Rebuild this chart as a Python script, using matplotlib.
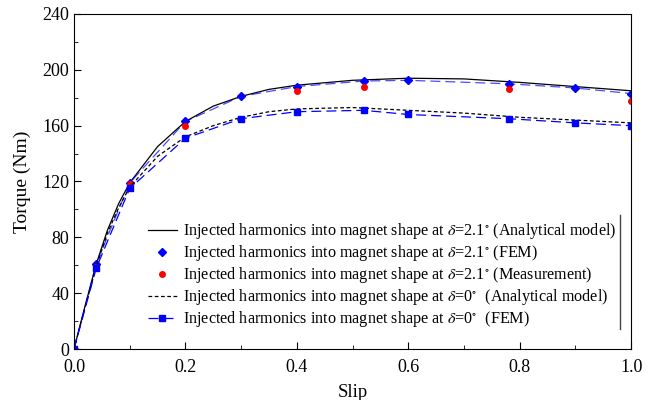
import numpy as np
import matplotlib.pyplot as plt

plt.rcParams['font.family'] = ['Liberation Serif', 'DejaVu Serif']
plt.rcParams['mathtext.fontset'] = 'stix'

# analytical model curves
s_an = [0, 0.02, 0.04, 0.06, 0.08, 0.1, 0.15, 0.2, 0.25, 0.3, 0.35, 0.4,
        0.5, 0.6, 0.7, 0.8, 0.9, 1.0]
t_an21 = [0, 31, 61, 85, 104, 119, 145, 163, 174, 181, 186, 189,
          192.5, 194, 193.5, 191, 188, 185]
t_an0 = [0, 30, 59, 83, 101, 116, 138, 152, 160, 166, 170, 172,
         173, 171, 169, 166, 164, 162]

# FEM delta = 2.1
s_fem = [0, 0.04, 0.1, 0.2, 0.3, 0.4, 0.52, 0.6, 0.78, 0.9, 1.0]
t_fem21 = [0, 61, 119, 163, 181, 188, 192, 192.5, 190, 187, 183]
# FEM delta = 0
t_fem0 = [0, 58, 115, 151, 165, 170, 171, 168, 165, 162, 160]

# measurement delta = 2.1
s_meas = [0.04, 0.1, 0.2, 0.4, 0.52, 0.78, 1.0]
t_meas = [59, 118, 160, 185, 188, 186, 178]

lab = 'Injected harmonics into magnet shape at '
d21 = r'$\delta$=2.1$^{\circ}$'
d0 = r'$\delta$=0$^{\circ}$'

fig = plt.figure(figsize=(6.57, 4.0), dpi=100)
ax = fig.add_axes([0.1126, 0.1275, 0.848, 0.8375])

ax.plot(s_an, t_an21, color='black', lw=0.9, label=lab + d21 + ' (Analytical model)')
ax.plot(s_fem, t_fem21, color='blue', lw=0.9, ls=(0, (8, 4)), alpha=0.7)
ax.plot(s_fem, t_fem21, color='blue', ls='none', marker='D', ms=4,
        label=lab + d21 + ' (FEM)')
ax.plot(s_meas, t_meas, color='red', ls='none', marker='o', ms=4,
        label=lab + d21 + ' (Measurement)')
ax.plot(s_an, t_an0, color='black', lw=0.9, ls=(0, (3, 2)),
        label=lab + d0 + '  (Analytical model)')
ax.plot(s_fem, t_fem0, color='blue', lw=0.9, ls=(0, (8, 4)), marker='s', ms=4,
        label=lab + d0 + '  (FEM)')

ax.set_xlim(0, 1.0)
ax.set_ylim(0, 240)
ax.set_xticks(np.arange(0, 1.01, 0.2))
ax.set_xticks(np.arange(0.1, 1.0, 0.2), minor=True)
ax.set_yticks(np.arange(0, 241, 40))
ax.set_yticks(np.arange(20, 240, 40), minor=True)
ax.tick_params(direction='in', labelsize=13, length=5)
ax.tick_params(axis='x', pad=7)
ax.tick_params(which='minor', direction='in', length=3)
ax.xaxis.set_major_formatter(plt.FormatStrFormatter('%.1f'))
ax.set_xlabel('Slip', fontsize=13.5, labelpad=6)
ax.set_ylabel('Torque (Nm)', fontsize=14, labelpad=8)

leg = ax.legend(loc='lower right', bbox_to_anchor=(0.985, 0.04), frameon=False,
                fontsize=11.6, handlelength=1.8, labelspacing=0.12,
                handletextpad=0.4, borderaxespad=0.0)
ax.plot([0.98, 0.98], [0.06, 0.4], transform=ax.transAxes, color='#444444', lw=1)

fig.savefig('out.png', dpi=100)
